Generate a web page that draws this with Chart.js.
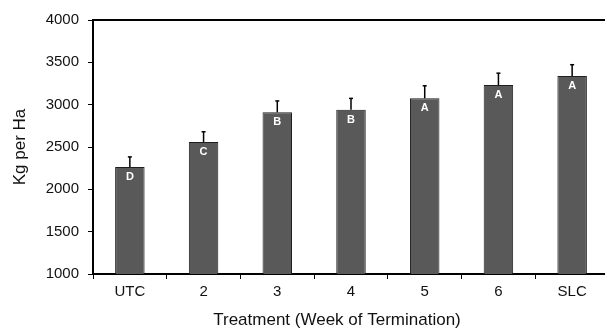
<!DOCTYPE html>
<html lang="en">
<head>
  <meta charset="UTF-8" />
  <title>Kg per Ha by Treatment</title>
  <script src="https://cdn.jsdelivr.net/npm/chart.js"></script>
  <style>
    html, body {
      margin: 0;
      padding: 0;
      background: #fff;
      overflow: hidden;
    }
    #wrap {
      width: 612px;
      height: 329px;
    }
  </style>
</head>
<body>
  <div id="wrap"><canvas id="yieldChart" width="612" height="329"></canvas></div>

  <script>
    // data
    const treatments = ["UTC", "2", "3", "4", "5", "6", "SLC"];
    const yieldKg = [2265, 2560, 2910, 2940, 3075, 3232, 3338];
    const errorKg = [118, 120, 134, 134, 148, 140, 134];
    const groupLetters = ["D", "C", "B", "B", "A", "A", "A"];
    const yTicks = [1000, 1500, 2000, 2500, 3000, 3500, 4000];

    const FONT = "'Liberation Sans', Arial, sans-serif";

    // error bars, letters, top border and x title
    const extras = {
      id: "extras",
      afterDatasetsDraw(chart) {
        const ctx = chart.ctx;
        const meta = chart.getDatasetMeta(0);
        const y = chart.scales.y;
        ctx.save();
        meta.data.forEach((bar, i) => {
          const top = y.getPixelForValue(yieldKg[i] + errorKg[i]);
          ctx.strokeStyle = "#000";
          ctx.lineWidth = 1.5;
          ctx.beginPath();
          ctx.moveTo(bar.x, bar.y);
          ctx.lineTo(bar.x, top);
          ctx.stroke();
          ctx.beginPath();
          ctx.moveTo(bar.x - 2, top);
          ctx.lineTo(bar.x + 2, top);
          ctx.stroke();

          ctx.fillStyle = "#fff";
          ctx.font = "bold 11px " + FONT;
          ctx.textAlign = "center";
          ctx.textBaseline = "middle";
          ctx.fillText(groupLetters[i], bar.x, bar.y + 10);
        });

        const area = chart.chartArea;
        ctx.strokeStyle = "#000";
        ctx.lineWidth = 2;
        ctx.beginPath();
        ctx.moveTo(area.left - 1, area.top);
        ctx.lineTo(area.right + 1, area.top);
        ctx.stroke();

        ctx.fillStyle = "#111";
        ctx.font = "17px " + FONT;
        ctx.textAlign = "center";
        ctx.textBaseline = "middle";
        ctx.fillText("Treatment (Week of Termination)", 337, 320);
        ctx.restore();
      }
    };

    new Chart(document.getElementById("yieldChart"), {
      type: "bar",
      data: {
        labels: treatments,
        datasets: [{
          data: yieldKg,
          backgroundColor: "#595959",
          borderColor: "#1e1e1e",
          borderWidth: 1,
          barPercentage: 0.4,
          categoryPercentage: 1
        }]
      },
      options: {
        responsive: false,
        animation: false,
        layout: { padding: { top: 20, right: 3, bottom: 0, left: 0 } },
        plugins: {
          legend: { display: false },
          tooltip: { enabled: false }
        },
        scales: {
          x: {
            offset: true,
            grid: {
              offset: true,
              drawOnChartArea: false,
              drawTicks: true,
              tickLength: 5,
              color: "#000"
            },
            border: { display: true, color: "#000", width: 2 },
            ticks: {
              color: "#111",
              font: { family: FONT, size: 15 },
              padding: 4,
              maxRotation: 0
            },
            afterFit(scale) { scale.height = 55; }
          },
          y: {
            min: 1000,
            max: 4000,
            afterBuildTicks(scale) {
              scale.ticks = yTicks.map(v => ({ value: v }));
            },
            grid: {
              drawOnChartArea: false,
              drawTicks: true,
              tickLength: 5,
              color: "#000"
            },
            border: { display: true, color: "#000", width: 2 },
            ticks: {
              color: "#111",
              font: { family: FONT, size: 15 },
              padding: 9,
              callback: v => String(v)
            },
            title: {
              display: true,
              text: "Kg per Ha",
              color: "#111",
              font: { family: FONT, size: 17 },
              padding: { top: 10, bottom: 0 }
            },
            afterFit(scale) { scale.width = 93; }
          }
        }
      },
      plugins: [extras]
    });
  </script>
</body>
</html>
